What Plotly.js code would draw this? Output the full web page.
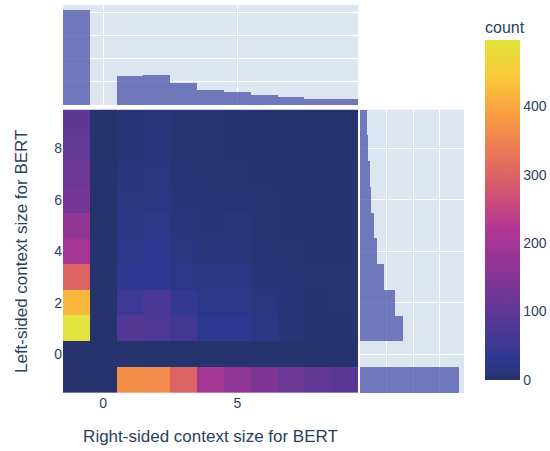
<!DOCTYPE html>
<html>
<head>
<meta charset="utf-8">
<script src="https://cdn.plot.ly/plotly-3.0.1.min.js"></script>
<style>html,body{margin:0;padding:0;background:#fff;}#chart{width:550px;height:451px;}</style>
</head>
<body>
<div id="chart"></div>
<script>
// Bin centres (context sizes)
const xBins = [-1, 0, 1, 2, 3, 4, 5, 6, 7, 8, 9];
const yBins = [-1, 0, 1, 2, 3, 4, 5, 6, 7, 8, 9];

// Counts: one row per yBin (left-sided), one column per xBin (right-sided)
const rowYm1 = [0, 0, 368, 362, 300, 199, 166, 142, 118, 104, 95];
const rowY0  = [0, 0, 0, 0, 0, 0, 0, 0, 0, 0, 0];
const rowY1  = [497, 0, 80, 75, 60, 30, 30, 20, 10, 4, 4];
const rowY2  = [420, 0, 50, 70, 40, 25, 25, 15, 10, 4, 6];
const rowY3  = [300, 0, 30, 35, 25, 20, 20, 10, 8, 5, 6];
const rowY4  = [200, 0, 25, 30, 18, 12, 13, 8, 5, 3, 4];
const rowY5  = [170, 0, 20, 22, 13, 10, 11, 7, 4, 2, 4];
const rowY6  = [130, 0, 17, 18, 10, 9, 8, 6, 4, 2, 4];
const rowY7  = [120, 0, 13, 15, 8, 7, 6, 4, 3, 3, 4];
const rowY8  = [108, 0, 10, 12, 6, 5, 4, 2, 2, 2, 2];
const rowY9  = [100, 0, 8, 11, 5, 5, 3, 1, 1, 0, 0];

const z = [rowYm1, rowY0, rowY1, rowY2, rowY3, rowY4, rowY5, rowY6, rowY7, rowY8, rowY9];

// Marginal totals derived from the count table
const colTotals = xBins.map((_, j) => z.reduce((s, r) => s + r[j], 0));
const rowTotals = z.map(r => r.reduce((s, v) => s + v, 0));

const textColor = '#2a3f5f';
const bg = '#dde5f1';
const colorscale = [
  [0, '#27336d'], [0.06, '#2e3890'], [0.111, '#3f3894'], [0.222, '#663896'],
  [0.333, '#8f3595'], [0.444, '#b23694'], [0.556, '#d2556f'], [0.667, '#ea7757'],
  [0.778, '#f89c42'], [0.889, '#fbc83a'], [1, '#e2e33c']
];

const heat = {
  type: 'heatmap', x: xBins, y: yBins, z: z,
  xaxis: 'x', yaxis: 'y',
  colorscale: colorscale, zmin: 0,
  colorbar: {
    title: {text: 'count', font: {size: 16, color: textColor}},
    thickness: 35, x: 1.0, xanchor: 'left', xpad: 21, ypad: 13, outlinewidth: 0,
    tickfont: {size: 14, color: textColor}
  }
};
const barColor = '#4a53a8';
const topHist = {
  type: 'bar', x: xBins, y: colTotals, width: 1,
  xaxis: 'x2', yaxis: 'y2', showlegend: false,
  marker: {color: barColor, opacity: 0.75, line: {width: 0}}
};
const rightHist = {
  type: 'bar', orientation: 'h', y: yBins, x: rowTotals, width: 1,
  xaxis: 'x3', yaxis: 'y3', showlegend: false,
  marker: {color: barColor, opacity: 0.75, line: {width: 0}}
};

const gridColor = '#ffffff';
const mainX = [0, 0.7357];
const mainY = [0, 0.7304];
const layout = {
  width: 550, height: 451,
  margin: {l: 63, r: 86, t: 5, b: 58, autoexpand: false},
  paper_bgcolor: '#ffffff', plot_bgcolor: bg,
  font: {family: 'Arial, "Liberation Sans", sans-serif', size: 14, color: textColor},
  showlegend: false, bargap: 0,
  xaxis: {
    domain: mainX, anchor: 'y', range: [-1.5, 9.5], tick0: 0, dtick: 5,
    showgrid: true, gridcolor: gridColor, zeroline: false, ticks: '', automargin: false,
    title: {text: 'Right-sided context size for BERT', font: {size: 17}, standoff: 20}
  },
  yaxis: {
    domain: mainY, anchor: 'x', range: [-1.5, 9.5], tick0: 0, dtick: 2,
    showgrid: true, gridcolor: gridColor, zeroline: false, ticks: '', automargin: false,
    title: {text: 'Left-sided context size for BERT', font: {size: 17}, standoff: 22}
  },
  xaxis2: {
    domain: mainX, anchor: 'y2', matches: 'x', showticklabels: false, tick0: 0, dtick: 5,
    showgrid: true, gridcolor: gridColor, zeroline: false, ticks: ''
  },
  yaxis2: {
    domain: [0.742, 1], anchor: 'x2', showticklabels: false, dtick: 500, rangemode: 'tozero',
    showgrid: true, gridcolor: gridColor, zeroline: false, ticks: ''
  },
  xaxis3: {
    domain: [0.7406, 1], anchor: 'y3', showticklabels: false, dtick: 500, rangemode: 'tozero',
    showgrid: true, gridcolor: gridColor, zeroline: false, ticks: ''
  },
  yaxis3: {
    domain: mainY, anchor: 'x3', matches: 'y', showticklabels: false, tick0: 0, dtick: 2,
    showgrid: true, gridcolor: gridColor, zeroline: false, ticks: ''
  }
};

Plotly.newPlot('chart', [topHist, rightHist, heat], layout, {displayModeBar: false, staticPlot: true});
</script>
</body>
</html>
